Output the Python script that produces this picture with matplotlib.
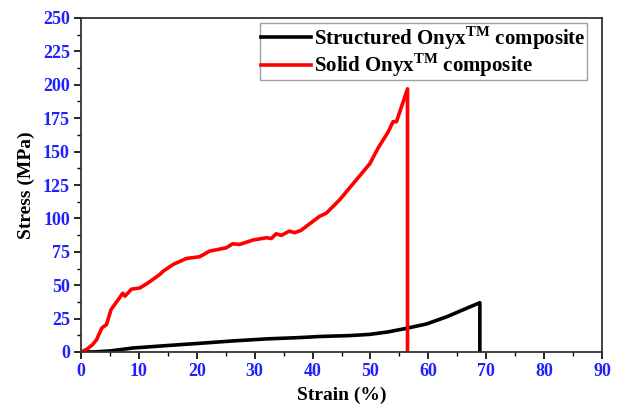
import matplotlib
matplotlib.use("Agg")
import matplotlib.pyplot as plt
from matplotlib.ticker import MultipleLocator

plt.rcParams['font.family'] = ['Liberation Serif', 'DejaVu Serif']
plt.rcParams['font.weight'] = 'bold'
plt.rcParams['mathtext.fontset'] = 'custom'
plt.rcParams['mathtext.rm'] = 'Liberation Serif:bold'
plt.rcParams['mathtext.bf'] = 'Liberation Serif:bold'

# Solid Onyx composite (strain %, stress MPa)
solid_strain = [0, 1.0, 2.0, 2.7, 3.6, 4.4, 5.2, 6.4, 7.2, 7.6, 8.7, 10.2, 11.6, 13.6,
                14.2, 15.9, 18.2, 20.5, 22.2, 25.1, 26.2, 27.4, 29.7, 32.0, 32.9, 33.7,
                34.6, 36.0, 36.9, 38.0, 39.6, 41.2, 42.4, 44.7, 47.0, 48.5, 49.9, 51.3,
                53.1, 53.9, 54.5, 56.4, 56.4]
solid_stress = [0, 2.0, 5.5, 9.3, 18.0, 20.5, 31.8, 39.0, 44.0, 41.8, 47.0, 48.0, 51.8,
                58.0, 60.5, 65.5, 70.0, 71.3, 75.5, 78.0, 81.0, 80.5, 83.8, 85.5, 85.0,
                88.5, 87.3, 90.5, 89.3, 91.0, 96.3, 101.5, 104.0, 114.0, 126.0, 133.7,
                141.0, 152.5, 165.0, 172.4, 172.4, 197.0, 0]

# Structured Onyx composite
struct_strain = [0, 2.5, 5.0, 9.0, 14.8, 20.5, 26.3, 32.0, 37.8, 41.2, 46.5, 49.9, 53.0,
                 56.2, 59.7, 63.2, 66.6, 68.9, 68.9]
struct_stress = [0, 0.1, 0.8, 3.0, 4.8, 6.5, 8.3, 9.8, 10.8, 11.6, 12.3, 13.2, 15.0,
                 17.7, 21.0, 26.4, 32.7, 36.9, 0]

xticks = [0, 10, 20, 30, 40, 50, 60, 70, 80, 90]
yticks = [0, 25, 50, 75, 100, 125, 150, 175, 200, 225, 250]

fig = plt.figure(figsize=(6.2, 4.05), dpi=100)
ax = fig.add_axes([81 / 620, 1 - 352 / 405, 521 / 620, 334 / 405])

ax.plot(struct_strain, struct_stress, color='black', lw=2.6,
        label='Structured Onyx$^{\\mathrm{TM}}$ composite')
ax.plot(solid_strain, solid_stress, color='#ff0000', lw=2.6,
        label='Solid Onyx$^{\\mathrm{TM}}$ composite')

ax.set_xlim(0, 90)
ax.set_ylim(0, 250)
ax.set_xticks(xticks)
ax.set_yticks(yticks)
ax.xaxis.set_minor_locator(MultipleLocator(5))
ax.yaxis.set_minor_locator(MultipleLocator(12.5))
ax.tick_params(which='major', direction='out', length=5, width=1.2,
               labelsize=13, labelcolor='#2020ff', pad=3)
ax.tick_params(which='minor', direction='out', length=3, width=1.0)
for lab in ax.get_xticklabels() + ax.get_yticklabels():
    lab.set_fontweight('bold')
for sp in ax.spines.values():
    sp.set_linewidth(1.3)
    sp.set_color('#333333')

ax.set_xlabel('Strain (%)', fontsize=14, fontweight='bold')
ax.xaxis.set_label_coords(0.5, -0.103)
ax.set_ylabel('Stress (MPa)', fontsize=14, fontweight='bold')
ax.yaxis.set_label_coords(-0.088, 0.5)

leg = ax.legend(loc='upper right', bbox_to_anchor=((587 - 81) / 521, (352 - 23) / 334),
                fontsize=15, frameon=True, fancybox=False,
                handlelength=2.4, handletextpad=0.15, borderpad=0.05,
                labelspacing=0.0, borderaxespad=0)
leg.get_frame().set_edgecolor('#888888')
leg.get_frame().set_linewidth(1.0)

fig.savefig('out.png', dpi=100)
